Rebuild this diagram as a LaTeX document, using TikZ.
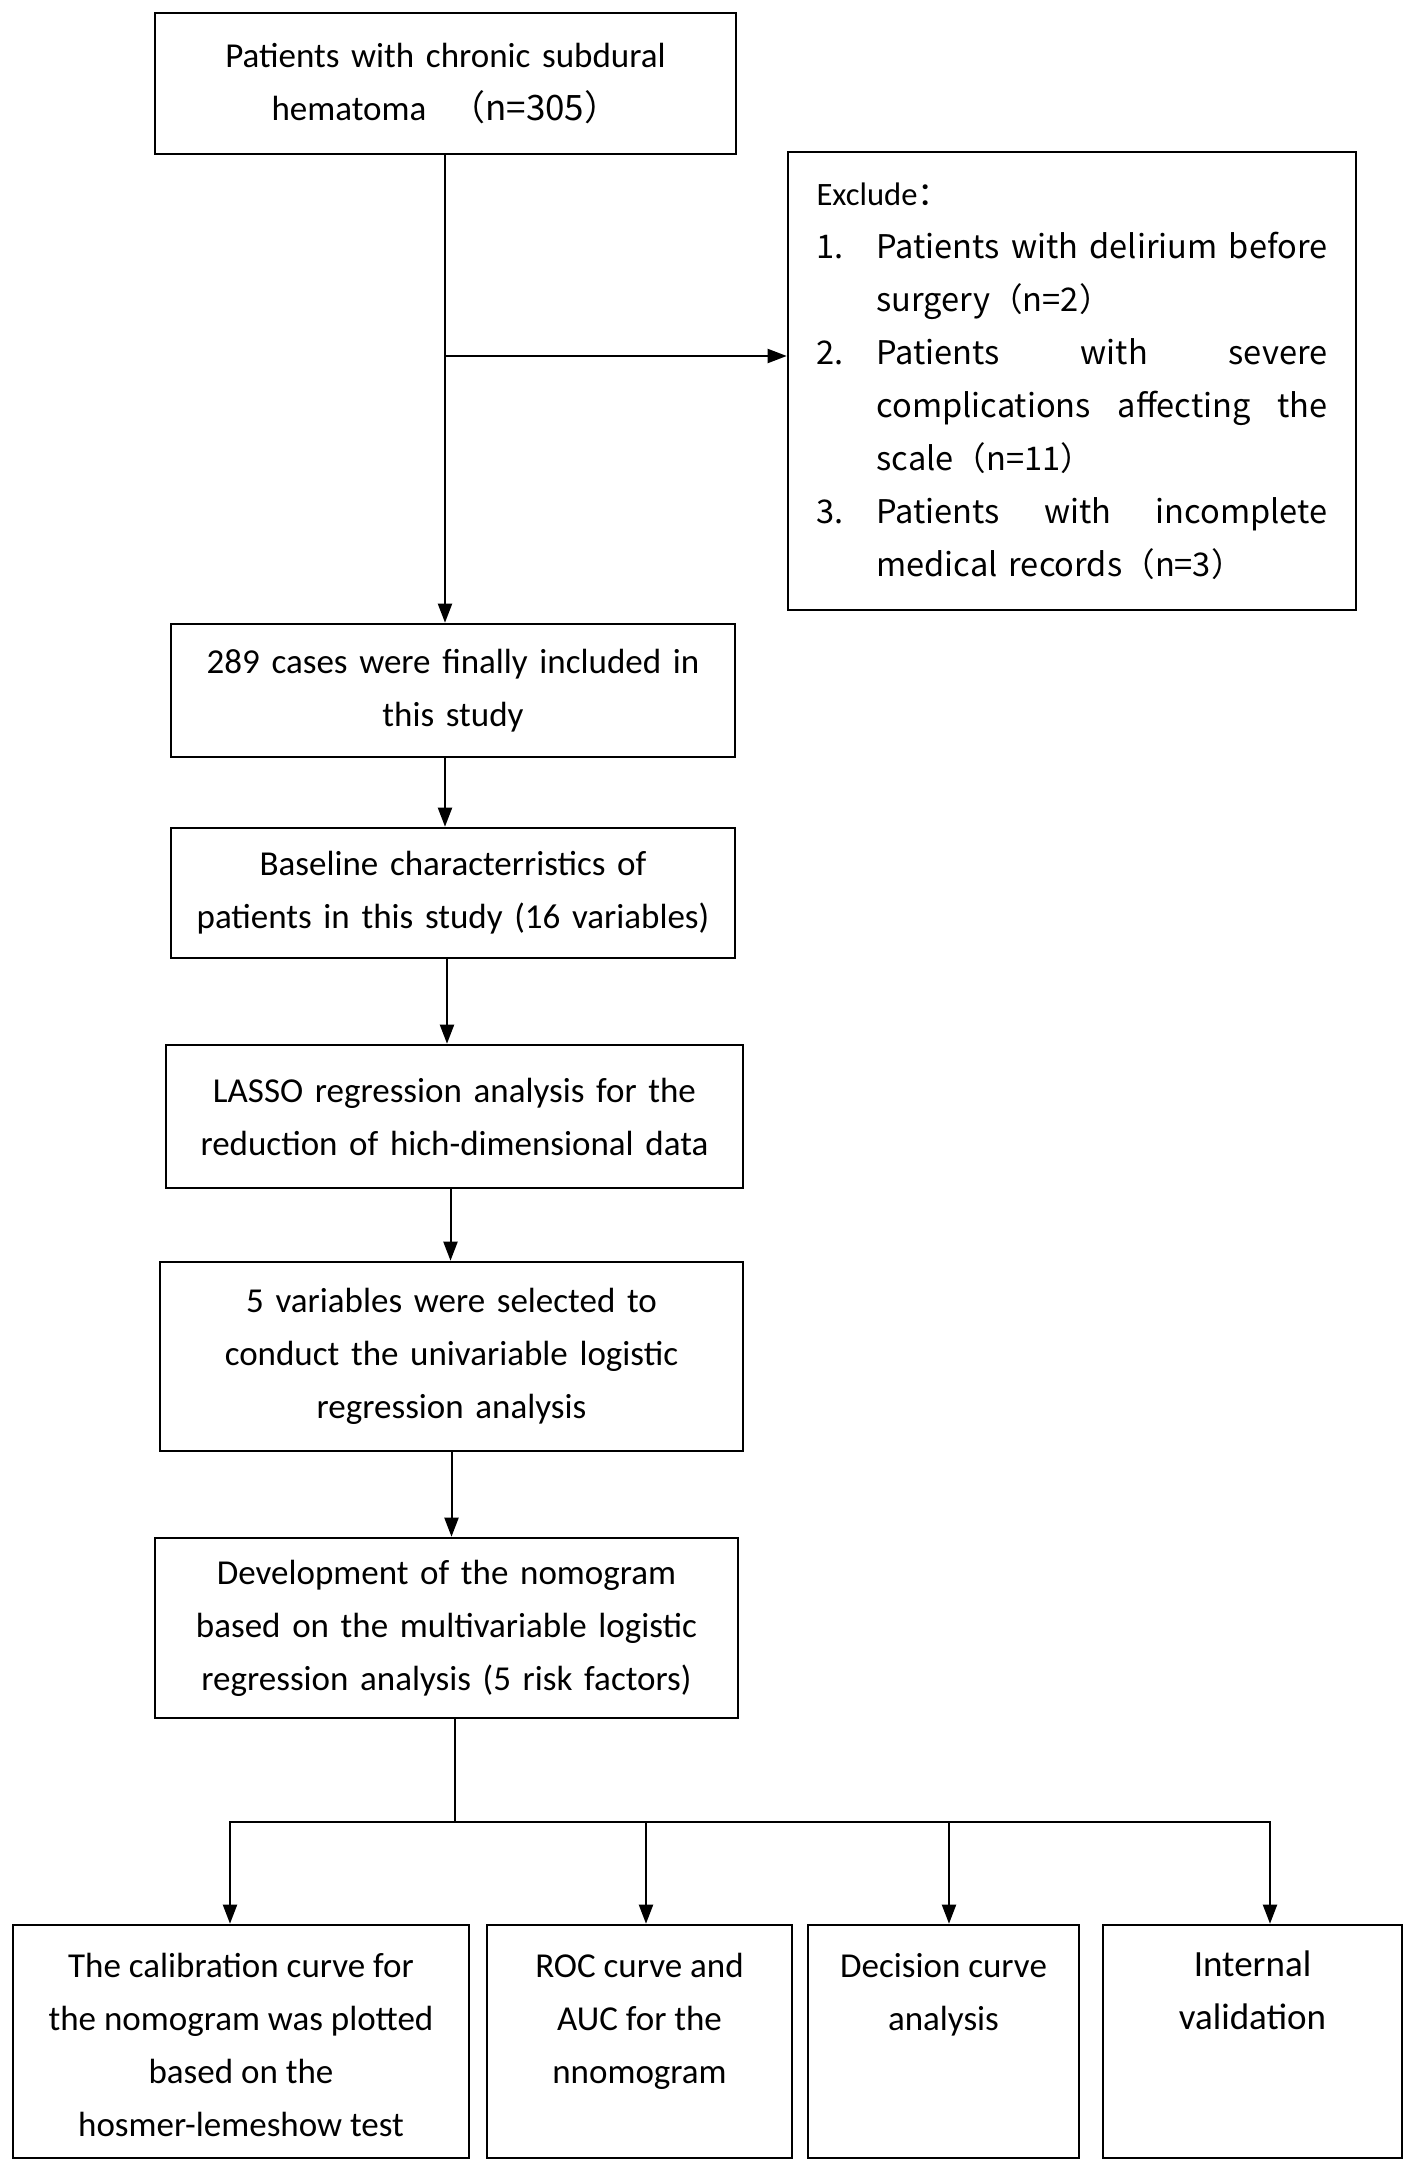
\documentclass[tikz,border=0pt]{standalone}
\usepackage{fontspec}
\setmainfont{Carlito}
\newfontfamily\cjk{Noto Sans CJK SC}
\usetikzlibrary{arrows.meta,calc}
\newcommand{\exnum}[1]{\makebox[30pt][l]{#1}}
\newcommand{\exind}{\hspace*{30pt}}
\tikzset{
  box/.style={draw=black, line width=1.3pt, inner sep=0pt, align=center,
    font=\fontsize{17.5pt}{26.5pt}\selectfont},
  exbox/.style={draw=black, line width=1.3pt, inner sep=0pt, align=left,
    font=\fontsize{16.3pt}{26.5pt}\selectfont},
  arr/.style={draw=black, line width=1pt, -{Triangle[length=9.5pt,width=7pt]}},
  ln/.style={draw=black, line width=1pt},
}
\begin{document}
\begin{tikzpicture}[x=0.5pt,y=-0.5pt]
\useasboundingbox[fill=white] (0,0) rectangle (1414,2167);

\node[box, minimum width=290.5pt, minimum height=70.5pt, text width=284pt] (top) at (445.5,83.5)
  {Patients with chronic subdural\\hematoma\hspace{12pt}\cjk{（}n=305\cjk{）}};

\node[exbox, minimum width=284pt, minimum height=229pt, text width=255.5pt] (excl) at (1072,381)
  {Exclude\cjk{：}\\
   \exnum{1.}\hbox to 225.5pt{Patients\hfill with\hfill delirium\hfill before}\\
   \exind surgery\cjk{（}n=2\cjk{）}\\
   \exnum{2.}\hbox to 225.5pt{Patients\hfill with\hfill severe}\\
   \exind\hbox to 225.5pt{complications\hfill affecting\hfill the}\\
   \exind scale\cjk{（}n=11\cjk{）}\\
   \exnum{3.}\hbox to 225.5pt{Patients\hfill with\hfill incomplete}\\
   \exind medical records\cjk{（}n=3\cjk{）}};

\node[box, minimum width=282pt, minimum height=66.5pt, text width=278pt] (inc) at (453,690.5)
  {289 cases were finally included in\\this study};

\node[box, minimum width=282pt, minimum height=65pt, text width=278pt] (base) at (453,893)
  {Baseline characterristics of\\patients in this study (16 variables)};

\node[box, minimum width=288.5pt, minimum height=71.5pt, text width=284pt] (lasso) at (454.5,1116.5)
  {LASSO regression analysis for the\\reduction of hich-dimensional data};

\node[box, minimum width=291.5pt, minimum height=94.5pt, text width=286pt] (five) at (451.5,1356.5)
  {5 variables were selected to\\conduct the univariable logistic\\regression analysis};

\node[box, minimum width=291.5pt, minimum height=90pt, text width=286pt] (dev) at (446.5,1628)
  {Development of the nomogram\\based on the multivariable logistic\\regression analysis (5 risk factors)};

\node[box, minimum width=228pt, minimum height=116.5pt] (b1) at (241,2041.5)
  {\parbox[c][116.5pt][t]{224pt}{\centering\vspace*{14pt}The calibration curve for\\the nomogram was plotted\\based on the\\hosmer-lemeshow test}};
\node[box, minimum width=152.5pt, minimum height=116.5pt] (b2) at (639.5,2041.5)
  {\parbox[c][116.5pt][t]{148pt}{\centering\vspace*{14pt}ROC curve and\\AUC for the\\nnomogram}};
\node[box, minimum width=135.5pt, minimum height=116.5pt] (b3) at (943.5,2041.5)
  {\parbox[c][116.5pt][t]{131pt}{\centering\vspace*{14pt}Decision curve\\analysis}};
\node[box, minimum width=149.5pt, minimum height=116.5pt] (b4) at (1252.5,2041.5)
  {\parbox[c][116.5pt][t]{145pt}{\centering\fontsize{18.5pt}{26.5pt}\selectfont\vspace*{13pt}Internal\\validation}};

% connectors
\coordinate (br) at (445,356);
\draw[arr] (top.south -| br) -- (inc.north -| br);
\draw[arr] (br) -- (br -| excl.west);
\draw[arr] (inc.south -| br) -- (base.north -| br);
\draw[arr] ($(base.south -| br)+(2,0)$) -- ($(lasso.north -| br)+(2,0)$);
\draw[arr] ($(lasso.south)+(-4,0)$) -- ($(lasso.south |- five.north)+(-4,0)$);
\draw[arr] (five.south) -- (five.south |- dev.north);

\coordinate (busc) at (455,1822);
\coordinate (bus1) at (230,1822);
\coordinate (bus2) at (646,1822);
\coordinate (bus3) at (949,1822);
\coordinate (bus4) at (1270,1822);
\draw[ln] (dev.south -| busc) -- (busc);
\draw[ln, line cap=rect] (bus1) -- (bus4);
\draw[arr] (bus1) -- (bus1 |- b1.north);
\draw[arr] (bus2) -- (bus2 |- b2.north);
\draw[arr] (bus3) -- (bus3 |- b3.north);
\draw[arr] (bus4) -- (bus4 |- b4.north);
\end{tikzpicture}
\end{document}
